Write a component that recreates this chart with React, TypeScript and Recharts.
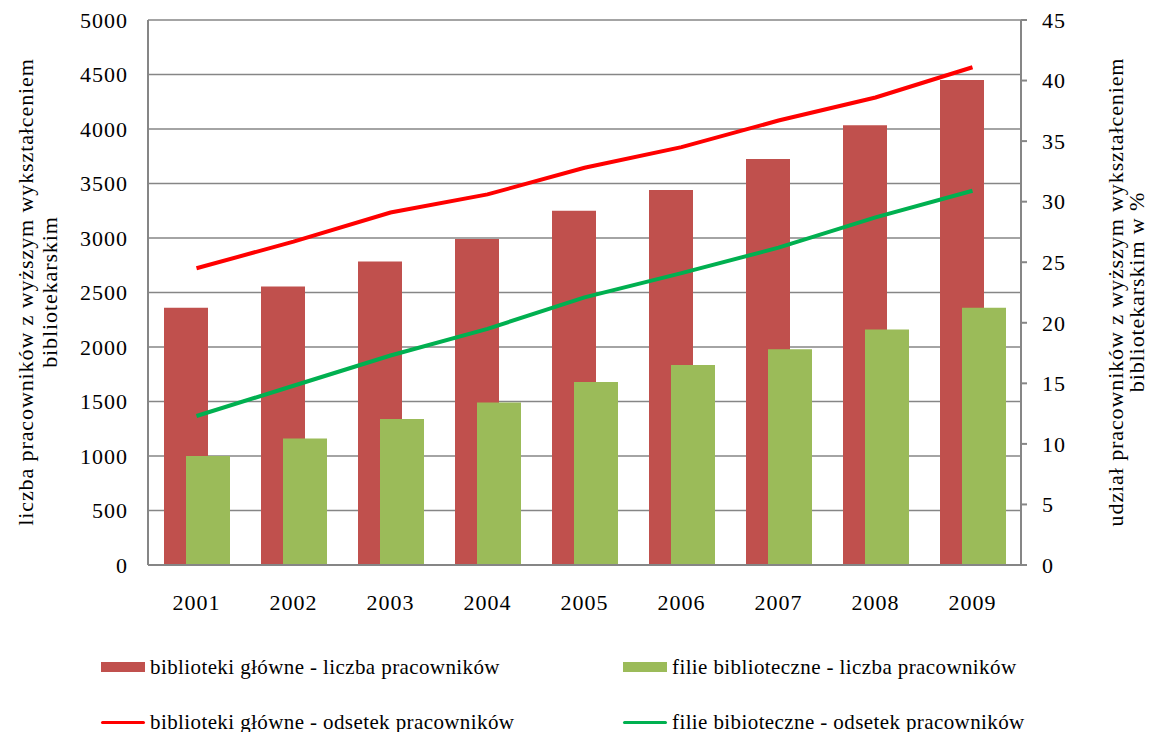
import {
  ComposedChart,
  Bar,
  Line,
  XAxis,
  YAxis,
  CartesianGrid,
  Legend,
} from "recharts";

const years = ["2001", "2002", "2003", "2004", "2005", "2006", "2007", "2008", "2009"];
const glowneCount = [2360, 2555, 2785, 2990, 3250, 3440, 3725, 4035, 4450];
const filieCount = [1000, 1160, 1340, 1490, 1680, 1835, 1980, 2160, 2360];
const glownePct = [24.5, 26.7, 29.1, 30.6, 32.8, 34.5, 36.7, 38.6, 41.1];
const filiePct = [12.3, 14.8, 17.3, 19.5, 22.1, 24.1, 26.2, 28.7, 30.9];

const leftTicks = [0, 500, 1000, 1500, 2000, 2500, 3000, 3500, 4000, 4500, 5000];
const rightTicks = [0, 5, 10, 15, 20, 25, 30, 35, 40, 45];

const leftTitle = ["liczba pracowników z wyższym wykształceniem", "bibliotekarskim"];
const rightTitle = ["udział pracowników z wyższym wykształceniem", "bibliotekarskim w %"];

const legendItems = [
  { label: "biblioteki główne - liczba pracowników", color: "#c0504d", kind: "bar" },
  { label: "filie biblioteczne - liczba pracowników", color: "#9bbb59", kind: "bar" },
  { label: "biblioteki główne - odsetek pracowników", color: "#ff0000", kind: "line" },
  { label: "filie bibioteczne - odsetek pracowników", color: "#00b050", kind: "line" },
];

const data = years.map((y, i) => ({
  year: y,
  glowne: glowneCount[i],
  filie: filieCount[i],
  glowneP: glownePct[i],
  filieP: filiePct[i],
}));

const FONT = "Liberation Serif, Times New Roman, serif";
const AXIS = "#868686";
const tickStyle = {
  fontSize: 22,
  fill: "#000",
  fontFamily: FONT,
  letterSpacing: 1,
  style: { fontFamily: FONT },
};

// plot spans y 20..565
const MID_Y = 292;

function axisTitle(x: number, lines: string[], gap: number) {
  return () => (
    <text
      transform={`translate(${x}, ${MID_Y}) rotate(-90)`}
      textAnchor="middle"
      style={{ fontFamily: FONT, fontSize: 22, fill: "#000", letterSpacing: 0.9 }}
    >
      {lines.map((l, i) => (
        <tspan key={i} x={0} y={i * gap}>
          {l}
        </tspan>
      ))}
    </text>
  );
}

function LegendBox() {
  const cols = [101, 623];
  const rows = [42, 97];
  return (
    <div
      style={{
        position: "relative",
        width: 1152,
        height: 100,
        fontFamily: FONT,
        fontSize: 21,
        letterSpacing: 0.4,
      }}
    >
      {legendItems.map((it, i) => {
        const left = cols[i % 2];
        const top = rows[Math.floor(i / 2)];
        return (
          <div
            key={it.label}
            style={{
              position: "absolute",
              left,
              top: top - 13,
              height: 26,
              display: "flex",
              alignItems: "center",
              whiteSpace: "nowrap",
              color: "#000",
            }}
          >
            <span
              style={{
                display: "inline-block",
                width: 44,
                height: it.kind === "bar" ? 10 : 3,
                background: it.color,
                marginRight: 5,
                borderRadius: it.kind === "bar" ? 0 : 2,
              }}
            />
            {it.label}
          </div>
        );
      })}
    </div>
  );
}

export default function App() {
  return (
    <div
      style={{
        position: "absolute",
        left: 0,
        top: 0,
        width: 1152,
        height: 732,
        background: "#fff",
        fontFamily: FONT,
      }}
    >
      <ComposedChart
        width={1152}
        height={732}
        data={data}
        margin={{ top: 20, right: 0, left: 0, bottom: 7 }}
        barSize={44}
        barGap={-22}
        style={{ fontFamily: FONT }}
      >
        <CartesianGrid yAxisId="left" vertical={false} stroke={AXIS} strokeWidth={1.5} />
        <XAxis
          dataKey="year"
          height={60}
          tickLine={false}
          axisLine={{ stroke: AXIS, strokeWidth: 2 }}
          tick={tickStyle}
          tickMargin={23}
          interval={0}
        />
        <YAxis
          yAxisId="left"
          width={148}
          domain={[0, 5000]}
          ticks={leftTicks}
          interval={0}
          tickLine={false}
          axisLine={{ stroke: AXIS, strokeWidth: 2 }}
          tick={tickStyle}
          tickMargin={14}
          label={axisTitle(33, leftTitle, 24)}
        />
        <YAxis
          yAxisId="right"
          orientation="right"
          width={131}
          domain={[0, 45]}
          ticks={rightTicks}
          interval={0}
          tickLine={{ stroke: AXIS, strokeWidth: 2 }}
          tickSize={6}
          axisLine={{ stroke: AXIS, strokeWidth: 2 }}
          tick={tickStyle}
          tickMargin={15}
          label={axisTitle(1123, rightTitle, 21)}
        />
        <Legend
          verticalAlign="bottom"
          height={100}
          wrapperStyle={{ left: 0, width: 1152 }}
          content={() => <LegendBox />}
        />
        <Bar yAxisId="left" dataKey="glowne" fill="#c0504d" isAnimationActive={false} />
        <Bar yAxisId="left" dataKey="filie" fill="#9bbb59" isAnimationActive={false} />
        <Line
          yAxisId="right"
          type="linear"
          dataKey="glowneP"
          stroke="#ff0000"
          strokeWidth={4}
          dot={false}
          isAnimationActive={false}
        />
        <Line
          yAxisId="right"
          type="linear"
          dataKey="filieP"
          stroke="#00b050"
          strokeWidth={4}
          dot={false}
          isAnimationActive={false}
        />
      </ComposedChart>
    </div>
  );
}
